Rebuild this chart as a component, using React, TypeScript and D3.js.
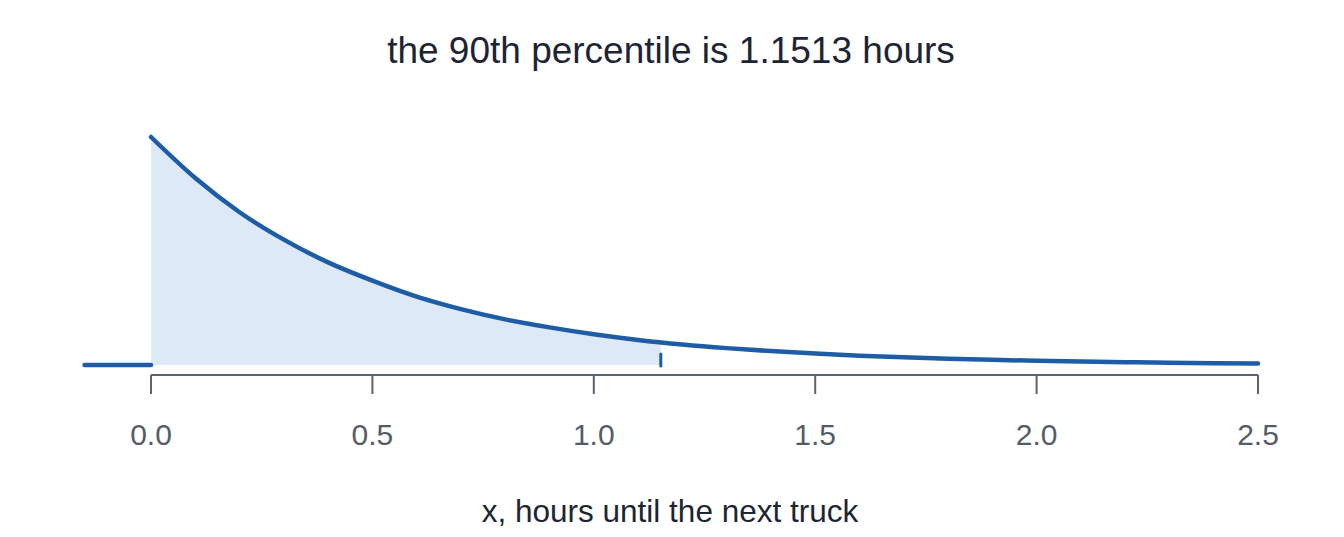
import React from "react";
import * as d3 from "d3";

// density values
const xValues = [0, 0.1, 0.2, 0.3, 0.4, 0.5, 0.6, 0.7, 0.8, 0.9, 1.0, 1.1, 1.2, 1.3, 1.4, 1.5, 1.6, 1.7, 1.8, 1.9, 2.0, 2.1, 2.2, 2.3, 2.4, 2.5];
const densityValues = [2.0, 1.64, 1.34, 1.1, 0.9, 0.74, 0.6, 0.49, 0.4, 0.33, 0.27, 0.22, 0.18, 0.148, 0.122, 0.1, 0.082, 0.067, 0.055, 0.045, 0.037, 0.03, 0.025, 0.02, 0.016, 0.013];
const leftX = [-0.15, 0];
const leftY = [0, 0];
const percentile = 1.1513;
const percentileDensity = 0.2;
const tickValues = [0, 0.5, 1.0, 1.5, 2.0, 2.5];
const tickLabels = ["0.0", "0.5", "1.0", "1.5", "2.0", "2.5"];
const title = "the 90th percentile is 1.1513 hours";
const xLabel = "x, hours until the next truck";

const W = 1344;
const H = 537;

export default function App() {
  const x = d3.scaleLinear().domain([0, 2.5]).range([151, 1258]);
  const y = d3.scaleLinear().domain([0, 2]).range([365, 137]);

  const pts: [number, number][] = xValues.map((v, i) => [v, densityValues[i]]);
  const line = d3
    .line<[number, number]>()
    .x((d) => x(d[0]))
    .y((d) => y(d[1]))
    .curve(d3.curveMonotoneX);

  const fillPts: [number, number][] = pts.filter((d) => d[0] <= percentile);
  fillPts.push([percentile, percentileDensity]);
  const area = d3
    .area<[number, number]>()
    .x((d) => x(d[0]))
    .y0(y(0))
    .y1((d) => y(d[1]))
    .curve(d3.curveMonotoneX);

  const leftPts: [number, number][] = leftX.map((v, i) => [v, leftY[i]]);
  const leftLine = d3
    .line<[number, number]>()
    .x((d) => x(d[0]))
    .y((d) => y(d[1]));

  const axisY = 375;
  const axisColor = "#5b6370";
  const lineColor = "#1f5ca6";

  return (
    <svg
      width={W}
      height={H}
      style={{ position: "absolute", left: 0, top: 0, background: "#fff" }}
      fontFamily="'Liberation Sans', Arial, sans-serif"
    >
      <text x={671} y={63} textAnchor="middle" fontSize={37} fill="#1d2433">
        {title}
      </text>
      <path d={area(fillPts) || ""} fill="#dde9f7" stroke="none" />
      <path d={line(pts) || ""} fill="none" stroke={lineColor} strokeWidth={4.5} strokeLinecap="round" />
      <path d={leftLine(leftPts) || ""} fill="none" stroke={lineColor} strokeWidth={4.5} strokeLinecap="round" />
      <line
        x1={x(percentile)}
        x2={x(percentile)}
        y1={y(0) - 11}
        y2={y(0) + 1}
        stroke={lineColor}
        strokeWidth={3}
        strokeLinecap="round"
      />
      <line x1={x(0)} x2={x(2.5)} y1={axisY} y2={axisY} stroke={axisColor} strokeWidth={2} />
      {tickValues.map((t, i) => (
        <g key={i}>
          <line x1={x(t)} x2={x(t)} y1={axisY} y2={axisY + 19} stroke={axisColor} strokeWidth={2} />
          <text x={x(t)} y={445} textAnchor="middle" fontSize={30} fill="#555c69">
            {tickLabels[i]}
          </text>
        </g>
      ))}
      <text x={670} y={522} textAnchor="middle" fontSize={31.5} fill="#1d2433">
        {xLabel}
      </text>
    </svg>
  );
}
